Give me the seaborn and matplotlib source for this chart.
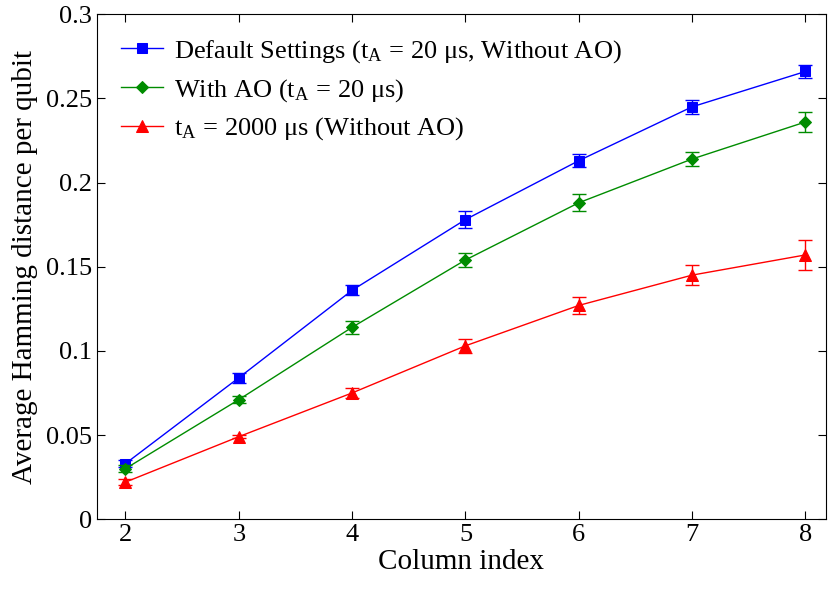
import numpy as np
import pandas as pd
import matplotlib
matplotlib.use("Agg")
import matplotlib.pyplot as plt
import seaborn as sns

plt.rcParams["font.family"] = "Liberation Serif"
plt.rcParams["mathtext.fontset"] = "stix"

columns = [2, 3, 4, 5, 6, 7, 8]
default_vals = [0.033, 0.084, 0.136, 0.178, 0.213, 0.245, 0.266]
default_err = [0.002, 0.003, 0.003, 0.005, 0.004, 0.004, 0.004]
ao_vals = [0.030, 0.071, 0.114, 0.154, 0.188, 0.214, 0.236]
ao_err = [0.002, 0.002, 0.004, 0.004, 0.005, 0.004, 0.006]
long_vals = [0.022, 0.049, 0.075, 0.103, 0.127, 0.145, 0.157]
long_err = [0.002, 0.001, 0.003, 0.004, 0.005, 0.006, 0.009]

series = [
    ("Default Settings (t$_\\mathregular{A}$ = 20 μs, Without AO)", default_vals, default_err, "#0000ff", "s", 7),
    ("With AO (t$_\\mathregular{A}$ = 20 μs)", ao_vals, ao_err, "#008c00", "D", 6),
    ("t$_\\mathregular{A}$ = 2000 μs (Without AO)", long_vals, long_err, "#ff0000", "^", 8),
]

fig, ax = plt.subplots(figsize=(8.3, 5.94), dpi=100)
for label, vals, err, color, marker, ms in series:
    df = pd.DataFrame({"x": columns, "y": vals})
    sns.lineplot(data=df, x="x", y="y", ax=ax, color=color, marker=marker,
                 markersize=ms, markeredgecolor=color, linewidth=1, label=label)
    ax.errorbar(columns, vals, yerr=err, fmt="none", ecolor=color,
                elinewidth=1, capsize=5)

ax.set_xlim(1.75, 8.18)
ax.set_ylim(0, 0.3)
ax.set_xticks(columns)
ax.set_yticks(np.arange(0, 0.31, 0.05))
ax.set_yticklabels(["0", "0.05", "0.1", "0.15", "0.2", "0.25", "0.3"])
ax.tick_params(direction="in", labelsize=19, top=True, right=True, length=6)
ax.set_xlabel("Column index", fontsize=21, labelpad=2)
ax.set_ylabel("Average Hamming distance per qubit", fontsize=21, labelpad=6)
ax.legend(loc="upper left", fontsize=19, frameon=False, handlelength=1.6,
          handletextpad=0.4, borderaxespad=0.5, labelspacing=0.45)
plt.subplots_adjust(left=0.117, right=0.995, top=0.976, bottom=0.126)
plt.savefig("out.png", dpi=100)
